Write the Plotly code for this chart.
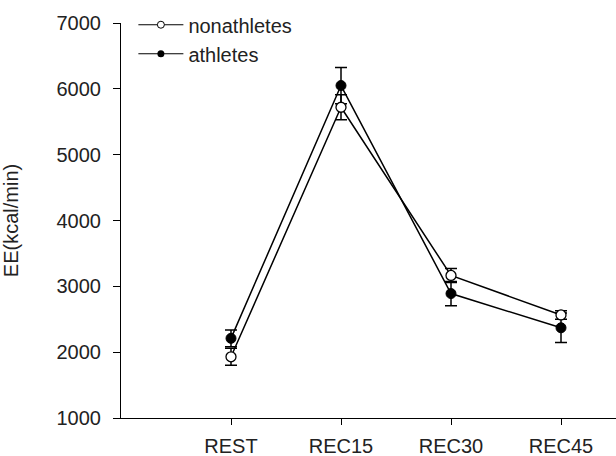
import plotly.graph_objects as go

categories = ["REST", "REC15", "REC30", "REC45"]
nonathletes = [1930, 5720, 3165, 2565]
nonathletes_err = [130, 190, 105, 65]
athletes = [2210, 6050, 2890, 2370]
athletes_err = [126, 275, 185, 225]
y_ticks = [1000, 2000, 3000, 4000, 5000, 6000, 7000]

FONT = "Liberation Sans, Arial, sans-serif"
fig = go.Figure()

fig.add_trace(go.Scatter(
    x=categories, y=athletes, mode="lines+markers", name="athletes",
    showlegend=False,
    line=dict(color="black", width=1.5),
    marker=dict(symbol="circle", size=10, color="black", line=dict(color="black", width=1)),
    error_y=dict(type="data", array=athletes_err, color="black", thickness=1.5, width=6),
))
fig.add_trace(go.Scatter(
    x=categories, y=nonathletes, mode="lines+markers", name="nonathletes",
    showlegend=False,
    line=dict(color="black", width=1.5),
    marker=dict(symbol="circle", size=10, color="white", line=dict(color="black", width=1.3)),
    error_y=dict(type="data", array=nonathletes_err, color="black", thickness=1.5, width=6),
))
# legend entries
fig.add_trace(go.Scatter(
    x=[None], y=[None], mode="lines+markers", name="nonathletes",
    line=dict(color="black", width=1.2),
    marker=dict(symbol="circle", size=7, color="white", line=dict(color="black", width=1)),
))
fig.add_trace(go.Scatter(
    x=[None], y=[None], mode="lines+markers", name="athletes",
    line=dict(color="black", width=1.2),
    marker=dict(symbol="circle", size=7, color="black"),
))

fig.update_layout(
    width=616, height=456,
    margin=dict(l=121, r=0, t=23, b=38),
    paper_bgcolor="white", plot_bgcolor="white",
    font=dict(family=FONT, size=20, color="#222"),
    showlegend=True,
    legend=dict(x=0.025, y=1.045, xanchor="left", yanchor="top",
                bgcolor="rgba(0,0,0,0)", font=dict(size=20),
                itemwidth=45),
    xaxis=dict(type="category", categoryorder="array", categoryarray=categories,
               range=[-1, 3.5], showline=True, linecolor="black", linewidth=1,
               ticks="outside", ticklen=6, tickcolor="black", showgrid=False,
               zeroline=False, ticklabelstandoff=4, automargin=False),
    yaxis=dict(range=[1000, 7000], tickvals=y_ticks, showline=True, linecolor="black",
               linewidth=1, ticks="outside", ticklen=7, tickcolor="black", showgrid=False,
               zeroline=False, ticklabelstandoff=8, automargin=False,
               title=dict(text="EE(kcal/min)", standoff=34, font=dict(size=20))),
)

fig.write_html("out.html", config={"displayModeBar": False},
               post_script="document.body.style.margin='0';")
